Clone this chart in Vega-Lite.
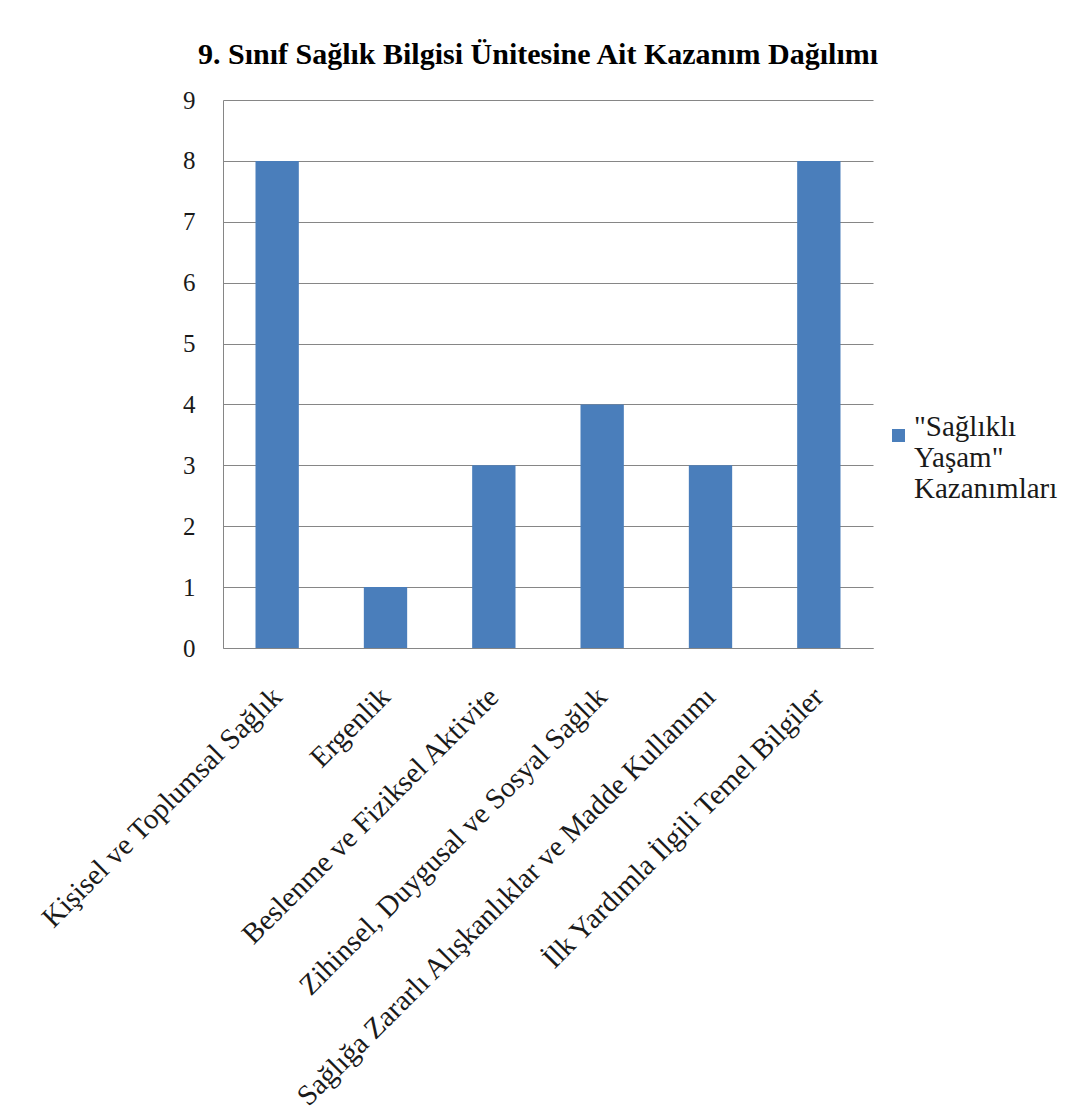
{
  "$schema": "https://vega.github.io/schema/vega-lite/v6.json",
  "width": 650,
  "height": 548,
  "autosize": {"type": "none"},
  "padding": {"left": 223, "top": 100, "right": 202, "bottom": 462},
  "background": "white",
  "title": {
    "text": "9. Sınıf Sağlık Bilgisi Ünitesine Ait Kazanım Dağılımı",
    "font": "Liberation Serif",
    "fontSize": 30,
    "fontWeight": "bold",
    "color": "#000000",
    "anchor": "middle",
    "baseline": "alphabetic",
    "offset": -6,
    "dx": -10
  },
  "data": {
    "values": [
      {"kategori": "Kişisel ve Toplumsal Sağlık", "deger": 8, "seri": "\"Sağlıklı Yaşam\" Kazanımları"},
      {"kategori": "Ergenlik", "deger": 1, "seri": "\"Sağlıklı Yaşam\" Kazanımları"},
      {"kategori": "Beslenme ve Fiziksel  Aktivite", "deger": 3, "seri": "\"Sağlıklı Yaşam\" Kazanımları"},
      {"kategori": "Zihinsel, Duygusal ve Sosyal Sağlık", "deger": 4, "seri": "\"Sağlıklı Yaşam\" Kazanımları"},
      {"kategori": "Sağlığa Zararlı Alışkanlıklar ve Madde Kullanımı", "deger": 3, "seri": "\"Sağlıklı Yaşam\" Kazanımları"},
      {"kategori": "İlk Yardımla İlgili Temel Bilgiler", "deger": 8, "seri": "\"Sağlıklı Yaşam\" Kazanımları"}
    ]
  },
  "mark": {"type": "bar"},
  "encoding": {
    "x": {
      "field": "kategori",
      "type": "nominal",
      "sort": null,
      "scale": {"paddingInner": 0.6, "paddingOuter": 0.3},
      "axis": {
        "title": null,
        "labelAngle": -45,
        "labelAlign": "right",
        "labelBaseline": "middle",
        "labelPadding": 44,
        "ticks": false,
        "domainColor": "#868686",
        "labelFont": "Liberation Serif",
        "labelFontSize": 29,
        "labelColor": "#1a1a1a",
        "labelLimit": 800,
        "labelOverlap": false
      }
    },
    "y": {
      "field": "deger",
      "type": "quantitative",
      "scale": {"domain": [0, 9]},
      "axis": {
        "title": null,
        "values": [0, 1, 2, 3, 4, 5, 6, 7, 8, 9],
        "ticks": false,
        "labelPadding": 28,
        "domainColor": "#868686",
        "gridColor": "#868686",
        "gridOpacity": 1,
        "labelFont": "Liberation Serif",
        "labelFontSize": 25,
        "labelColor": "#1a1a1a"
      }
    },
    "color": {
      "field": "seri",
      "type": "nominal",
      "scale": {"range": ["#4A7EBB"]},
      "legend": {
        "title": null,
        "orient": "none",
        "legendX": 661,
        "legendY": 321,
        "padding": 0,
        "symbolType": "square",
        "symbolSize": 169,
        "symbolStrokeWidth": 0,
        "labelExpr": "['\"Sağlıklı', 'Yaşam\"', 'Kazanımları']",
        "labelFont": "Liberation Serif",
        "labelFontSize": 29,
        "labelLineHeight": 31,
        "labelBaseline": "alphabetic",
        "labelOffset": 1,
        "labelLimit": 400,
        "labelColor": "#1a1a1a"
      }
    }
  },
  "config": {"view": {"stroke": null}}
}
